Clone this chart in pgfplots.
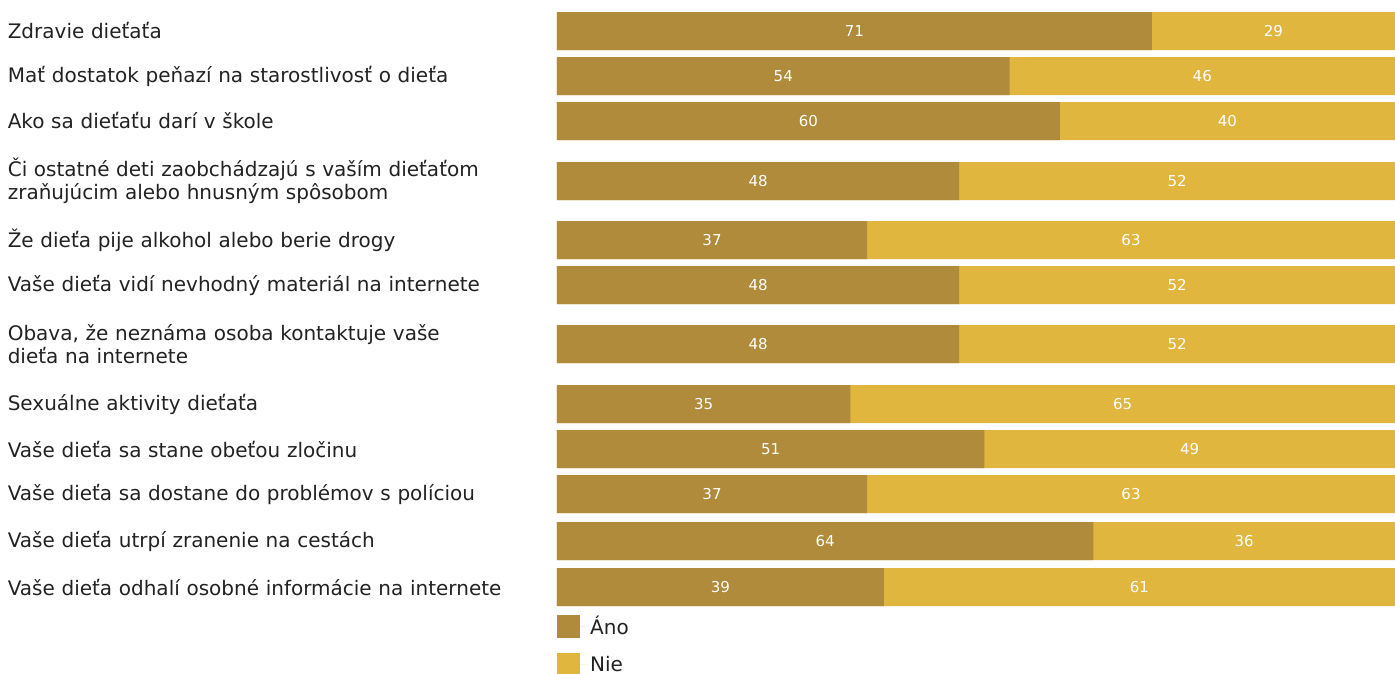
\documentclass[border=0pt]{standalone}
\usepackage{pgfplots}
\usepackage{pgfplotstable}
\pgfplotsset{compat=1.18}
\usepackage{fontspec}
\setmainfont{DejaVu Sans}
\definecolor{ano}{RGB}{175,139,59}
\definecolor{nie}{RGB}{225,182,62}
\definecolor{txt}{RGB}{34,34,34}
\pgfplotstableread{
y ano nie
31 71 29
76 54 46
121 60 40
181 48 52
240 37 63
285 48 52
344 48 52
404 35 65
449 51 49
494 37 63
541 64 36
587 39 61
}\data
\begin{document}
\begin{tikzpicture}
\path[use as bounding box] (0,0) rectangle (1395pt,673pt);
\begin{axis}[
  at={(557pt,0pt)}, anchor=south west,
  scale only axis, width=838pt, height=673pt,
  xmin=0, xmax=100, ymin=0, ymax=673, y dir=reverse,
  axis line style={draw=none}, major tick length=0pt,
  xtick=\empty,
  /pgf/number format/assume math mode=true,
  ytick={31,76,121,181,240,285,344,404,449,494,541,587},
  yticklabels={Zdravie dieťaťa, Mať dostatok peňazí na starostlivosť o dieťa, Ako sa dieťaťu darí v škole, {Či ostatné deti zaobchádzajú s vaším dieťaťom\\zraňujúcim alebo hnusným spôsobom}, Že dieťa pije alkohol alebo berie drogy, Vaše dieťa vidí nevhodný materiál na internete, {Obava, že neznáma osoba kontaktuje vaše\\dieťa na internete}, Sexuálne aktivity dieťaťa, Vaše dieťa sa stane obeťou zločinu, Vaše dieťa sa dostane do problémov s políciou, Vaše dieťa utrpí zranenie na cestách, Vaše dieťa odhalí osobné informácie na internete},
  yticklabel style={inner sep=0pt, text width=549pt, align=left, anchor=east, font=\fontsize{20}{23}\selectfont, text=txt},
  clip=false,
  legend style={at={(axis cs:0,614)}, anchor=north west, draw=none, fill=none, inner sep=0pt, font=\fontsize{20}{24}\selectfont, text=txt, row sep=15pt, legend cell align=left},
  legend image code/.code={\fill (0pt,-12pt) rectangle (23pt,11pt); \path (0pt,0pt) -- (31pt,0pt);},
]
\addplot[forget plot, xbar, bar width=38pt, bar shift=0pt, fill=nie, draw=none] table[x expr=\thisrow{ano}+\thisrow{nie}, y=y] {\data};
\addplot[forget plot, xbar, bar width=38pt, bar shift=0pt, fill=ano, draw=none] table[x=ano, y=y] {\data};
\addplot[forget plot, only marks, mark=none, nodes near coords, point meta=explicit, nodes near coords align=center, every node near coord/.style={text=white, font=\fontsize{15}{18}\selectfont, anchor=center}] table[x expr=\thisrow{ano}/2, y=y, meta=ano] {\data};
\addplot[forget plot, only marks, mark=none, nodes near coords, point meta=explicit, nodes near coords align=center, every node near coord/.style={text=white, font=\fontsize{15}{18}\selectfont, anchor=center}] table[x expr=\thisrow{ano}+\thisrow{nie}/2, y=y, meta=nie] {\data};
\addlegendimage{fill=ano, draw=none}
\addlegendentry{Áno}
\addlegendimage{fill=nie, draw=none}
\addlegendentry{Nie}
\end{axis}
\end{tikzpicture}
\end{document}
